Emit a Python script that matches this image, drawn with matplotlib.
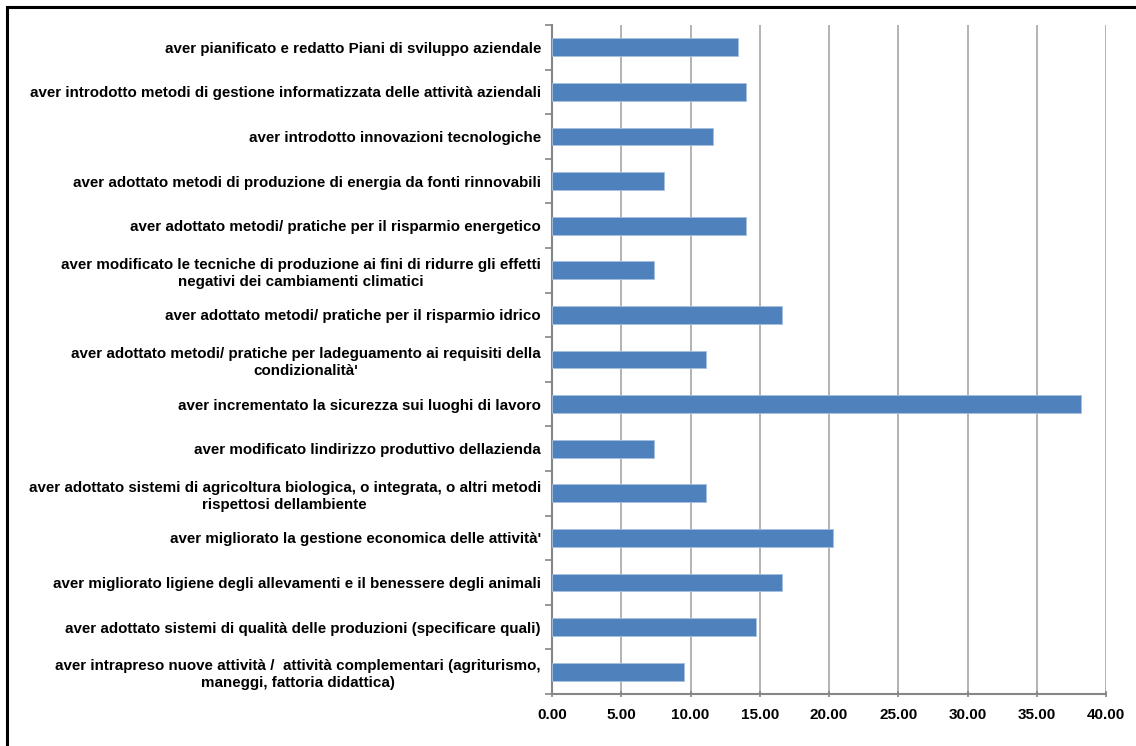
import matplotlib
matplotlib.use("Agg")
import matplotlib.pyplot as plt
from matplotlib.patches import Rectangle
import numpy as np

# categories, top to bottom as in the chart
labels = [
    "aver pianificato e redatto Piani di sviluppo aziendale",
    "aver introdotto metodi di gestione informatizzata delle attività aziendali",
    "aver introdotto innovazioni tecnologiche",
    "aver adottato metodi di produzione di energia da fonti rinnovabili",
    "aver adottato metodi/ pratiche per il risparmio energetico",
    "aver modificato le tecniche di produzione ai fini di ridurre gli effetti\nnegativi dei cambiamenti climatici",
    "aver adottato metodi/ pratiche per il risparmio idrico",
    "aver adottato metodi/ pratiche per ladeguamento ai requisiti della\ncondizionalità'",
    "aver incrementato la sicurezza sui luoghi di lavoro",
    "aver modificato lindirizzo produttivo dellazienda",
    "aver adottato sistemi di agricoltura biologica, o integrata, o altri metodi\nrispettosi dellambiente",
    "aver migliorato la gestione economica delle attività'",
    "aver migliorato ligiene degli allevamenti e il benessere degli animali",
    "aver adottato sistemi di qualità delle produzioni (specificare quali)",
    "aver intrapreso nuove attività /  attività complementari (agriturismo,\nmaneggi, fattoria didattica)",
]
values = [13.4, 14.0, 11.6, 8.1, 14.0, 7.4, 16.6, 11.1, 38.2, 7.4, 11.1, 20.3, 16.6, 14.7, 9.5]
xticks = [0, 5, 10, 15, 20, 25, 30, 35, 40]

plt.rcParams["font.family"] = ["Liberation Sans", "DejaVu Sans"]

fig = plt.figure(figsize=(11.36, 7.46), dpi=100)
ax = fig.add_axes([552 / 1136, 52 / 746, 554 / 1136, 669 / 746])

n = len(labels)
y = np.arange(n)[::-1]
ax.barh(y, values, height=0.4, color="#4f81bd", edgecolor="#a8c0e0", linewidth=0.6, zorder=3)

ax.set_xlim(0, 40)
ax.set_ylim(-0.5, n - 0.5)
ax.set_xticks(xticks)
ax.set_xticklabels([f"{v:.2f}" for v in xticks], fontsize=11, fontweight="bold")
ax.set_yticks(y)
ax.set_yticklabels(labels, fontsize=10.9, fontweight="bold", multialignment="center", linespacing=1.3)
ax.set_yticks(np.arange(n + 1) - 0.5, minor=True)
ax.tick_params(axis="y", which="major", length=0, pad=8)
ax.tick_params(axis="y", which="minor", length=5, width=1.2, color="#868686", direction="out")
ax.tick_params(axis="x", length=4, width=1.2, color="#868686", direction="inout", pad=8)

ax.grid(axis="x", color="#a6a6a6", linewidth=1.2, zorder=0)
for s in ["top", "right"]:
    ax.spines[s].set_visible(False)
for s in ["left", "bottom"]:
    ax.spines[s].set_color("#868686")
    ax.spines[s].set_linewidth(1.5)

# outer black frame (only top and left edges visible in the picture)
fig.patches.append(Rectangle((7 / 1136, -0.1), 1.2, (746 - 7) / 746 + 0.1,
                             transform=fig.transFigure, fill=False,
                             edgecolor="black", linewidth=2.2))

fig.savefig("out.png", dpi=100)
